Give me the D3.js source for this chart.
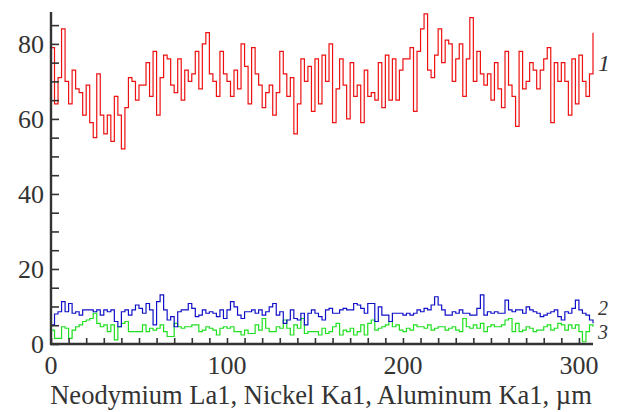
<!DOCTYPE html>
<html>
<head>
<meta charset="utf-8">
<script src="https://cdn.jsdelivr.net/npm/d3@7.9.0/dist/d3.min.js"></script>
<style>
  body { margin: 0; background: #fff; }
  svg { display: block; }
  text { font-family: "Liberation Serif", "Times New Roman", serif; fill: #333; }
</style>
</head>
<body>
<svg width="617" height="412"></svg>
<script>
// scan step, µm
const step = 2;

// curve 1 (red), values every 2 µm from 0
const neodymium = [
  79, 64, 71, 84, 70, 64, 73, 68, 67, 61, 69, 59, 55, 72, 61, 56, 61, 54, 66, 61,
  52, 63, 71, 70, 65, 69, 69, 75, 66, 78, 61, 71, 77, 76, 69, 67, 76, 65, 73, 70,
  72, 78, 68, 80, 83, 72, 70, 66, 78, 72, 70, 66, 73, 68, 80, 74, 64, 79, 72, 69,
  63, 67, 69, 61, 67, 78, 72, 66, 71, 56, 64, 76, 70, 74, 62, 76, 64, 77, 70, 80,
  59, 68, 76, 69, 60, 75, 66, 69, 59, 73, 66, 67, 65, 75, 63, 77, 65, 76, 65, 73,
  76, 76, 79, 62, 78, 84, 88, 73, 71, 77, 84, 75, 81, 80, 70, 76, 80, 66, 76, 87,
  70, 78, 72, 69, 72, 65, 75, 68, 63, 78, 69, 66, 58, 78, 68, 70, 75, 73, 68, 73,
  76, 79, 59, 75, 70, 75, 70, 61, 76, 64, 77, 70, 66, 72, 83
];

// curve 2 (blue)
const nickel = [
  5.1, 8, 8.6, 11.3, 8.6, 10.8, 8.2, 8.6, 7.7, 9.1, 9.1, 9.1, 8.6, 9.1, 7.7, 9.1, 8.6, 9.1, 6, 4.6,
  8.6, 9.1, 7.7, 9.1, 10.4, 9.5, 8.2, 10.8, 9.1, 5.1, 11.3, 13.1, 9.1, 6.4, 7.3, 4.6, 8.6, 9.1, 9.1, 10.8,
  9.5, 7.3, 7.7, 9.1, 8.2, 8.6, 8.2, 7.3, 9.1, 6.8, 9.1, 11.3, 9.9, 7.7, 6.8, 8.6, 8.6, 9.1, 8.2, 9.1,
  7.7, 8.6, 9.9, 10.8, 7.7, 8.6, 5.5, 6.4, 9.1, 6.8, 6.4, 8.2, 5.1, 8.2, 9.1, 8.2, 7.3, 6.4, 9.1, 9.5,
  8.2, 8.2, 9.1, 9.5, 9.1, 9.1, 10.8, 10.4, 9.5, 8.2, 10.8, 10.8, 6, 9.9, 7.7, 7.7, 6, 8.2, 8.2, 8.2,
  7.7, 8.2, 7.7, 8.2, 9.1, 8.6, 9.5, 9.1, 10.4, 12.6, 10.4, 9.1, 7.7, 7.7, 8.6, 8.2, 9.1, 8.2, 8.2, 7.7,
  7.7, 9.5, 13.1, 7.7, 8.6, 8.2, 8.6, 8.2, 8.2, 11.7, 9.1, 8.6, 9.1, 9.1, 8.2, 9.9, 9.1, 8.6, 8.2, 7.3,
  7.7, 8.2, 8.6, 9.1, 7.3, 6.4, 8.6, 8.2, 9.5, 11.7, 9.1, 8.2, 7.7, 6.4, 5.5
];

// curve 3 (green)
const aluminum = [
  3.7, 1.5, 1.5, 4.6, 4.2, 1.5, 3.7, 4.6, 5.1, 6, 6.4, 6.8, 8.2, 5.5, 4.6, 5.1, 3.3, 5.1, 1.1, 4.6,
  5.5, 6, 3.3, 3.3, 3.3, 3.3, 5.1, 3.3, 4.2, 3.7, 4.2, 5.1, 3.3, 2, 2, 5.5, 4.6, 4.2, 4.6, 4.6,
  5.1, 5.1, 3.3, 3.7, 4.6, 4.2, 3.7, 2.4, 4.2, 4.6, 4.2, 4.6, 3.3, 3.3, 2.4, 3.7, 2.8, 2.8, 5.1, 3.7,
  6.8, 4.2, 3.3, 3.3, 4.6, 4.2, 6.4, 4.2, 2.4, 5.1, 4.2, 6.8, 2.8, 3.3, 3.3, 3.3, 2.4, 4.2, 2.8, 3.3,
  4.6, 5.5, 2.4, 3.7, 3.3, 4.2, 2.4, 3.3, 5.1, 2.4, 5.5, 6.4, 3.7, 4.2, 4.6, 5.1, 6, 4.6, 5.1, 3.7,
  3.3, 4.2, 3.7, 5.1, 4.6, 4.6, 4.2, 5.1, 3.7, 4.2, 4.6, 4.6, 3.7, 4.2, 4.6, 3.7, 3.3, 6.8, 4.6, 4.2,
  5.1, 4.2, 5.5, 3.3, 4.6, 5.1, 4.6, 4.6, 5.1, 6.4, 6.8, 3.3, 5.5, 3.3, 3.7, 4.6, 4.2, 3.3, 3.7, 3.7,
  4.6, 5.1, 3.7, 4.2, 5.5, 5.1, 3.7, 5.1, 4.2, 5.1, 3.3, 0.6, 3.3, 5.1, 4.6
];

const xTicks = [0, 100, 200, 300];
const yTicks = [0, 20, 40, 60, 80];
const curveLabels = ["1", "2", "3"];
const labelValues = [75, 9.6, 3.3];
const xTitle = "Neodymium La1, Nickel Ka1, Aluminum Ka1, \u00b5m";

const svg = d3.select("svg");
const axisColor = "#333";

let x = d3.scaleLinear().domain([0, 308]).range([51, 593]);
let y = d3.scaleLinear().domain([0, 88.5]).range([344, 12]);

let series = [
  { values: neodymium, color: "#ee1111" },
  { values: nickel, color: "#1010c8" },
  { values: aluminum, color: "#1ee01e" },
];

let line = d3.line()
  .x((d, i) => x(i * step))
  .y((d) => y(d))
  .curve(d3.curveStepAfter);

// green first so blue sits on top where they touch
[series[2], series[1], series[0]].forEach((s) => {
  svg.append("path")
    .attr("d", line(s.values))
    .attr("fill", "none")
    .attr("stroke", s.color)
    .attr("stroke-width", 1.2);
});

// y axis: minor ticks every 5, labels every 20
let yAxis = svg.append("g").attr("transform", `translate(${x(0)},0)`);
yAxis.call(d3.axisRight(y).tickValues(d3.range(0, 88, 5)).tickSize(8).tickFormat(""));
yAxis.select(".domain").remove();
yAxis.selectAll("line").attr("stroke", axisColor).attr("stroke-width", 1.6);
svg.append("line")
  .attr("x1", x(0)).attr("x2", x(0))
  .attr("y1", y(0) + 1).attr("y2", y.range()[1])
  .attr("stroke", axisColor).attr("stroke-width", 2.4);

svg.selectAll(".ylab")
  .data(yTicks)
  .join("text")
  .attr("class", "ylab")
  .attr("x", x(0) - 7)
  .attr("y", (d) => y(d))
  .attr("dy", "0.34em")
  .attr("text-anchor", "end")
  .attr("font-size", 26)
  .text((d) => d);

// x axis: ticks every 10 pointing up
let xAxis = svg.append("g").attr("transform", `translate(0,${y(0)})`);
xAxis.call(d3.axisTop(x).tickValues(d3.range(0, 308, 10)).tickSize(6).tickFormat(""));
xAxis.select(".domain").remove();
xAxis.selectAll("line").attr("stroke", axisColor).attr("stroke-width", 1.6);
svg.append("line")
  .attr("x1", x(0) - 1).attr("x2", x.range()[1])
  .attr("y1", y(0)).attr("y2", y(0))
  .attr("stroke", axisColor).attr("stroke-width", 2.4);

svg.selectAll(".xlab")
  .data(xTicks)
  .join("text")
  .attr("class", "xlab")
  .attr("x", (d) => x(d))
  .attr("y", y(0) + 30)
  .attr("text-anchor", "middle")
  .attr("font-size", 26)
  .text((d) => d);

svg.append("text")
  .attr("x", (x(0) + x.range()[1]) / 2 - 1)
  .attr("y", 404)
  .attr("text-anchor", "middle")
  .attr("font-size", 26.5)
  .text(xTitle);

// curve numbers at the right end
svg.selectAll(".clab")
  .data(curveLabels)
  .join("text")
  .attr("class", "clab")
  .attr("x", 598)
  .attr("y", (d, i) => y(labelValues[i]))
  .attr("dy", "0.35em")
  .attr("font-size", (d, i) => (i === 0 ? 24 : 20))
  .attr("font-style", "italic")
  .text((d) => d);
</script>
</body>
</html>
